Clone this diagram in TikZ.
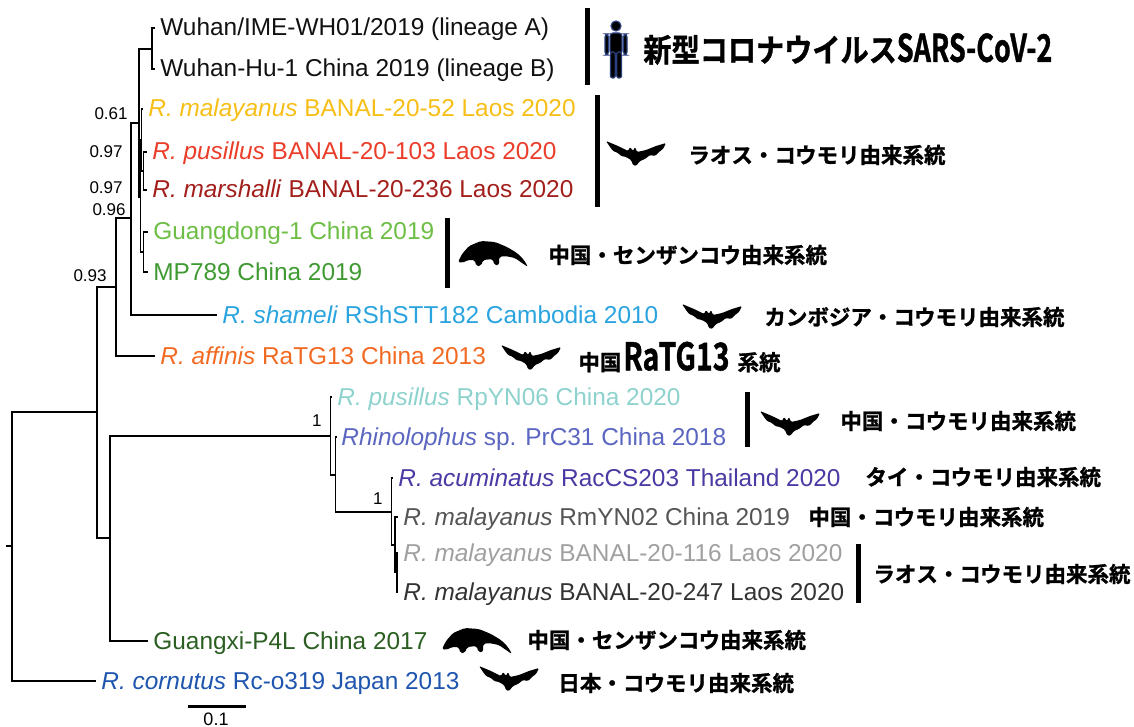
\documentclass[tikz,border=0pt]{standalone}
\usepackage{fontspec}
\usepackage{graphicx}
\setmainfont{Liberation Sans}
\newfontfamily\jpfont{Noto Sans CJK JP}[UprightFont=* Bold, FakeBold=1.2]
\usetikzlibrary{positioning}
\definecolor{sars}{HTML}{111111}
\definecolor{banalgold}{HTML}{F7BE16}
\definecolor{banalred}{HTML}{EA3D2A}
\definecolor{banaldark}{HTML}{A21F1B}
\definecolor{gdlight}{HTML}{6DBE45}
\definecolor{gdgreen}{HTML}{3F9A32}
\definecolor{cambo}{HTML}{2AA4DF}
\definecolor{ratg}{HTML}{F26A22}
\definecolor{rpteal}{HTML}{8ED2CE}
\definecolor{prc}{HTML}{5A66C0}
\definecolor{acum}{HTML}{4A3AA3}
\definecolor{rmgray}{HTML}{555555}
\definecolor{banalgray}{HTML}{A0A0A0}
\definecolor{banalink}{HTML}{333333}
\definecolor{gxgreen}{HTML}{2B5F22}
\definecolor{japan}{HTML}{1E55AE}
\definecolor{personline}{HTML}{2B3F7F}

\tikzset{
  bat/.pic={
    \fill[black, rounded corners=0.6pt]
      (-30,-12) -- (-18,-7) -- (-8,-2) -- (-6,-6) -- (-3,-2) -- (-1,-6)
      -- (1,-1) -- (10,-3) -- (20,-7) -- (30,-10)
      -- (27,-4) -- (23,-1) -- (19,3) -- (14,2) -- (9,6)
      -- (4,8) -- (0,13) -- (-3,12) -- (-5,7)
      -- (-10,4) -- (-15,3) -- (-18,0) -- (-23,-2) -- (-26,-6) -- cycle;
  },
  pangolin/.pic={
    \fill[black, rounded corners=1pt]
      (-35,8) -- (-31,0) -- (-24,-8) -- (-12,-13) -- (2,-12) -- (14,-7)
      -- (24,-1) -- (31,6) -- (35,13) -- (29,9) -- (22,4) -- (12,2)
      -- (6,3) -- (6,11) -- (1,11) -- (0,5) -- (-10,6)
      -- (-12,12) -- (-17,12) -- (-18,6) -- (-25,6) -- (-31,9) -- cycle;
  },
  human/.pic={
    \filldraw[fill=black, draw=personline, line width=0.6pt]
      (0,-23) circle (5);
    \filldraw[fill=black, draw=personline, line width=0.6pt, rounded corners=1.5pt]
      (-6,-16) rectangle (6,5);
    \filldraw[fill=black, draw=personline, line width=0.6pt, rounded corners=1.5pt]
      (-11,-15) rectangle (-7.5,6);
    \filldraw[fill=black, draw=personline, line width=0.6pt, rounded corners=1.5pt]
      (7.5,-15) rectangle (11,6);
    \filldraw[fill=black, draw=personline, line width=0.6pt, rounded corners=1pt]
      (-5.5,3) rectangle (-0.8,29);
    \filldraw[fill=black, draw=personline, line width=0.6pt, rounded corners=1pt]
      (0.8,3) rectangle (5.5,29);
  }
}

\begin{document}
\begin{tikzpicture}[x=0.5pt, y=-0.5pt,
  branch/.style={line width=0.7pt, black},
  tip/.style={anchor=west, inner xsep=2.5pt, inner ysep=0pt,
    text height=10pt, text depth=2pt, font=\fontsize{12.2}{14}\selectfont},
  support/.style={anchor=east, inner sep=0pt, font=\fontsize{8.5}{10}\selectfont},
  groupbar/.style={line width=2.5pt, black},
  lineage/.style={anchor=west, inner sep=0pt, font=\jpfont\fontsize{10.75}{12}\selectfont}]
  \useasboundingbox (0,0) rectangle (1134,727);

  % Internal nodes of the tree
  \coordinate (root) at (12,546);
  \coordinate (nIn)  at (97,412);
  \coordinate (nUp)  at (116,287);
  \coordinate (nY)   at (131,218);
  \coordinate (nZ)   at (139,123);
  \coordinate (nWu)  at (152,49);
  \coordinate (nW)   at (140.5,197);
  \coordinate (nV)   at (141.7,140);
  \coordinate (nU)   at (143.3,171);
  \coordinate (nGD)  at (143.5,252);
  \coordinate (nLow) at (110,538);
  \coordinate (nCl)  at (330.7,436);
  \coordinate (nB)   at (335.7,475);
  \coordinate (nC)   at (391.7,512);
  \coordinate (nD)   at (395,545);
  \coordinate (nE)   at (397,572);

  % Tips
  \node[tip, sars]      (wuA)  at (155,28)  {Wuhan/IME-WH01/2019 (lineage A)};
  \node[tip, sars]      (wuB)  at (155,69)  {Wuhan-Hu-1 China 2019 (lineage B)};
  \node[tip, banalgold] (b52)  at (143,109) {\textit{R. malayanus} BANAL-20-52 Laos 2020};
  \node[tip, banalred]  (b103) at (147,152) {\textit{R. pusillus} BANAL-20-103 Laos 2020};
  \node[tip, banaldark] (b236) at (147,190) {\textit{R. marshalli} BANAL-20-236 Laos 2020};
  \node[tip, gdlight]   (gd1)  at (148,232) {Guangdong-1 China 2019};
  \node[tip, gdgreen]   (mp)   at (148,272) {MP789 China 2019};
  \node[tip, cambo]     (rsh)  at (217,315) {\textit{R. shameli} RShSTT182 Cambodia 2010};
  \node[tip, ratg]      (rat)  at (155,356) {\textit{R. affinis} RaTG13 China 2013};
  \node[tip, rpteal]    (rp)   at (332,397) {\textit{R. pusillus} RpYN06 China 2020};
  \node[tip, prc]       (prc)  at (336,437) {\textit{Rhinolophus} sp. PrC31 China 2018};
  \node[tip, acum]      (rac)  at (393,478) {\textit{R. acuminatus} RacCS203 Thailand 2020};
  \node[tip, rmgray]    (rm)   at (398,517) {\textit{R. malayanus} RmYN02 China 2019};
  \node[tip, banalgray] (b116) at (398,553) {\textit{R. malayanus} BANAL-20-116 Laos 2020};
  \node[tip, banalink]  (b247) at (398,592) {\textit{R. malayanus} BANAL-20-247 Laos 2020};
  \node[tip, gxgreen]   (gx)   at (148,641) {Guangxi-P4L China 2017};
  \node[tip, japan]     (rc)   at (96,681)  {\textit{R. cornutus} Rc-o319 Japan 2013};

  % Branches (elbow from parent to child)
  \foreach \p/\c in {root/nIn, root/rc.west, nIn/nUp, nIn/nLow,
      nUp/nY, nUp/rat.west, nY/nZ, nY/rsh.west, nZ/nWu, nZ/nW,
      nWu/wuA.west, nWu/wuB.west, nW/nV, nW/nGD, nV/b52.west, nV/nU,
      nU/b103.west, nU/b236.west, nGD/gd1.west, nGD/mp.west,
      nLow/nCl, nLow/gx.west, nCl/rp.west, nCl/nB, nB/prc.west, nB/nC,
      nC/rac.west, nC/nD, nD/rm.west, nD/nE, nE/b116.west, nE/b247.west}
    \draw[branch] (\p) |- (\c);
  \draw[branch] (root) -- ++(-6,0);

  % Support values
  \node[support] (s061) at (128,114) {0.61};
  \node[support] (s097a) at (123,152) {0.97};
  \node[support] (s097b) at (123,188) {0.97};
  \node[support] (s096) at (126,210) {0.96};
  \node[support] (s093) at (107,276) {0.93};
  \node[support] (s1a) at (322,421) {1};
  \node[support] (s1b) at (383,499) {1};

  % Scale bar
  \coordinate (sbL) at (188,706);
  \coordinate (sbR) at (246,706);
  \draw[line width=1.5pt] (sbL) -- (sbR);
  \node[font=\fontsize{9}{10}\selectfont, inner sep=0pt] (sbl) at (216,719) {0.1};

  % Group bars
  \draw[groupbar] (587,8) -- (587,85);
  \draw[groupbar] (597,95) -- (597,207);
  \draw[groupbar] (447,218) -- (447,288);
  \draw[groupbar] (747,392) -- (747,447);
  \draw[groupbar] (858,544) -- (858,603);

  % Hosts
  \pic at (616,49) {human};
  \pic at (636,153) {bat};
  \pic at (493,254) {pangolin};
  \pic at (712,316) {bat};
  \pic at (531,357) {bat};
  \pic at (790,423) {bat};
  \pic at (477,641) {pangolin};
  \pic at (509,678) {bat};

  % Lineage labels
  \node[lineage] (lSars) at (643,49)
    {\scalebox{0.88}[1]{\fontsize{16}{16}\selectfont 新型コロナウイルス}\scalebox{0.71}[1]{\fontsize{19}{19}\selectfont SARS-CoV-2}};
  \node[lineage] (lLaosA) at (688,155) {ラオス・コウモリ由来系統};
  \node[lineage] (lGD)    at (548,255) {中国・センザンコウ由来系統};
  \node[lineage] (lCam)   at (764,317) {カンボジア・コウモリ由来系統};
  \node[lineage] (lRaTG)  at (578,357)
    {中国\hspace{1pt}\scalebox{0.75}[1]{\fontsize{19}{19}\selectfont RaTG13}\hspace{4pt}系統};
  \node[lineage] (lCnA)   at (840,421) {中国・コウモリ由来系統};
  \node[lineage] (lThai)  at (865,477) {タイ・コウモリ由来系統};
  \node[lineage] (lCnB)   at (808,517) {中国・コウモリ由来系統};
  \node[lineage] (lLaosB) at (873,574) {ラオス・コウモリ由来系統};
  \node[lineage] (lGX)    at (527,640) {中国・センザンコウ由来系統};
  \node[lineage] (lJp)    at (558,683) {日本・コウモリ由来系統};
\end{tikzpicture}
\end{document}
